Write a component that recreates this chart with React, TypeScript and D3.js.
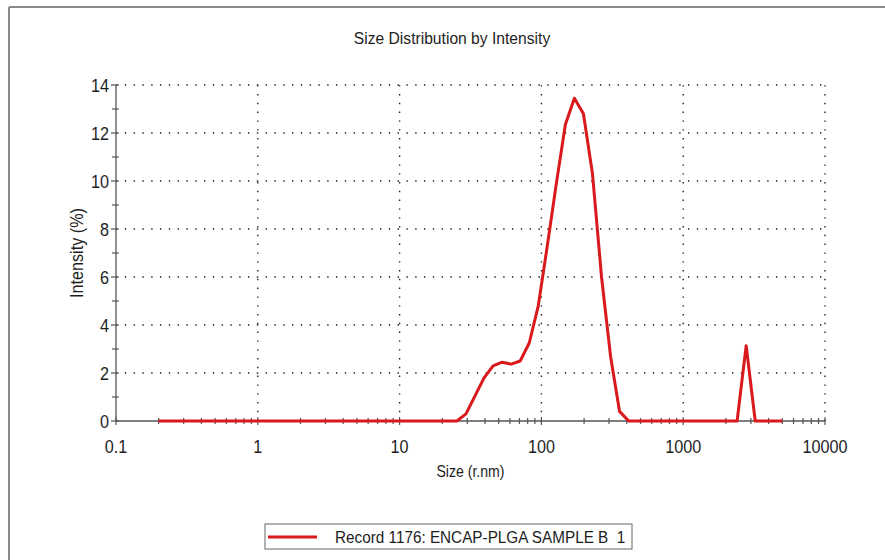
import React from "react";
import * as d3 from "d3";

const title = "Size Distribution by Intensity";
const xLabel = "Size (r.nm)";
const yLabel = "Intensity (%)";
const legendLabel = "Record 1176: ENCAP-PLGA SAMPLE B  1";

const sizes = [0.2, 25.37, 29.39, 34.03, 39.41, 45.64, 52.85, 61.2, 70.88, 82.08, 95.05, 110.1, 127.5, 147.6, 170.9, 197.9, 229.2, 265.5, 307.4, 355.8, 412.6, 2400, 2780, 3220, 5000];
const intensity = [0, 0, 0.3, 1.05, 1.8, 2.3, 2.45, 2.37, 2.5, 3.25, 4.8, 7.3, 9.9, 12.35, 13.45, 12.8, 10.3, 6.0, 2.7, 0.4, 0, 0, 3.14, 0, 0];

const xTicks = [0.1, 1, 10, 100, 1000, 10000];
const xTickLabels = ["0.1", "1", "10", "100", "1000", "10000"];
const yTicks = [0, 2, 4, 6, 8, 10, 12, 14];
const yMinorTicks = [1, 3, 5, 7, 9, 11, 13];

const W = 885;
const H = 560;
const L = 116, R = 825, T = 85, B = 421;
const FONT = "'Liberation Sans', Arial, sans-serif";
const RED = "#d9191c";
const INK = "#1e1e1e";

function NText(props: { x: number; y: number; size: number; sx: number; anchor?: string; rotate?: number; children: React.ReactNode }) {
  const { x, y, size, sx, anchor = "start", rotate = 0, children } = props;
  return (
    <text
      transform={`translate(${x},${y}) rotate(${rotate}) scale(${sx},1)`}
      textAnchor={anchor}
      fontFamily={FONT}
      fontSize={size}
      fill={INK}
      style={{ whiteSpace: "pre" }}
      xmlSpace="preserve"
    >
      {children}
    </text>
  );
}

export default function App() {
  const x = d3.scaleLog().domain([0.1, 10000]).range([L, R]);
  const y = d3.scaleLinear().domain([0, 14]).range([B, T]);
  const data = sizes.map((s, i) => [s, intensity[i]] as [number, number]);
  const line = d3.line<[number, number]>().x(d => x(d[0])).y(d => y(d[1]));

  const minorX: number[] = [];
  for (let e = -1; e < 4; e++) {
    for (let k = 2; k <= 9; k++) minorX.push(k * Math.pow(10, e));
  }

  return (
    <svg width={W} height={H} style={{ position: "absolute", left: 0, top: 0, background: "#fff" }}>
      <rect x={0} y={0} width={W} height={H} fill="#fff" />
      {/* outer frame */}
      <line x1={9} y1={7} x2={W} y2={7} stroke="#8a8a8a" strokeWidth={2} />
      <line x1={9} y1={7} x2={9} y2={H} stroke="#8a8a8a" strokeWidth={2} />

      <NText x={452} y={44} size={17} sx={0.92} anchor="middle">{title}</NText>

      {/* grid */}
      {yTicks.filter(v => v > 0).map(v => (
        <line key={"gy" + v} x1={L} x2={R} y1={y(v)} y2={y(v)} stroke="#222" strokeWidth={1.4} strokeDasharray="1.4,7.4" />
      ))}
      {xTicks.filter(v => v > 0.1).map(v => (
        <line key={"gx" + v} x1={x(v)} x2={x(v)} y1={B} y2={T} stroke="#222" strokeWidth={1.4} strokeDasharray="1.4,7.4" />
      ))}

      {/* axes */}
      <line x1={L} x2={R} y1={B} y2={B} stroke="#555" strokeWidth={1.3} />
      <line x1={L} x2={L} y1={B} y2={T} stroke="#555" strokeWidth={1.3} />

      {/* y ticks */}
      {yTicks.map(v => (
        <line key={"yt" + v} x1={L - 5} x2={L + 3} y1={y(v)} y2={y(v)} stroke="#555" strokeWidth={1.2} />
      ))}
      {yMinorTicks.map(v => (
        <line key={"ym" + v} x1={L - 4} x2={L + 3} y1={y(v)} y2={y(v)} stroke="#555" strokeWidth={1.2} />
      ))}
      {yTicks.map(v => (
        <NText key={"yl" + v} x={L - 7} y={y(v) + 6.5} size={18} sx={0.9} anchor="end">{v}</NText>
      ))}

      {/* x ticks */}
      {xTicks.map(v => (
        <line key={"xt" + v} x1={x(v)} x2={x(v)} y1={B - 4} y2={B + 4} stroke="#555" strokeWidth={1.2} />
      ))}
      {minorX.map(v => (
        <line key={"xm" + v} x1={x(v)} x2={x(v)} y1={B - 3} y2={B + 3} stroke="#555" strokeWidth={1.2} />
      ))}
      {xTicks.map((v, i) => (
        <NText key={"xl" + v} x={x(v)} y={B + 32} size={18} sx={0.9} anchor="middle">{xTickLabels[i]}</NText>
      ))}

      <NText x={(L + R) / 2} y={B + 56} size={16} sx={0.88} anchor="middle">{xLabel}</NText>
      <NText x={83} y={(T + B) / 2} size={18} sx={0.9} anchor="middle" rotate={-90}>{yLabel}</NText>

      {/* data */}
      <path d={line(data) || ""} fill="none" stroke={RED} strokeWidth={3} strokeLinejoin="round" />

      {/* legend */}
      <rect x={265} y={524} width={367} height={25} fill="#fff" stroke="#666" strokeWidth={1} />
      <line x1={268} x2={317} y1={537} y2={537} stroke={RED} strokeWidth={3} />
      <NText x={335} y={543} size={17} sx={0.9}>{legendLabel}</NText>
    </svg>
  );
}
